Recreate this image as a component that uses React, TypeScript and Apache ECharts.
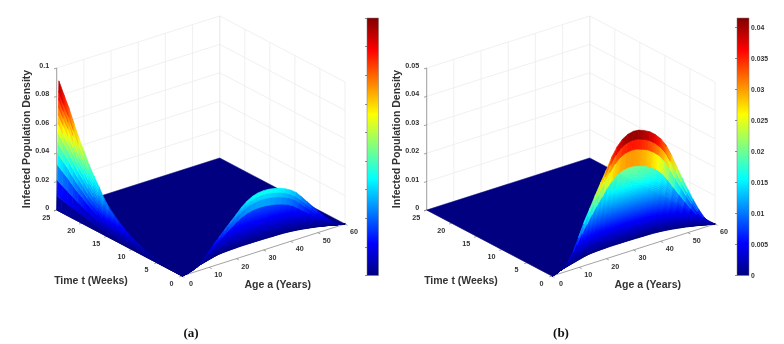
import React, { useEffect, useRef } from "react";
import * as echarts from "echarts";

const ageTicks = [0, 10, 20, 30, 40, 50, 60];
const weekTicks = [0, 5, 10, 15, 20, 25];
const densityTicksA = [0, 0.02, 0.04, 0.06, 0.08, 0.1];
const densityTicksB = [0, 0.01, 0.02, 0.03, 0.04, 0.05];

const ages = [0, 2, 4, 6, 8, 10, 12, 14, 16, 18, 20, 22, 24, 26, 28, 30, 32, 34, 36, 38, 40, 42, 44, 46, 48, 50, 52, 54, 56, 58, 60];
// density along the t = 0 edge, read from the crest of the hump
const crest = [0, 0.0004, 0.0015, 0.0032, 0.0065, 0.0112, 0.0158, 0.0197, 0.0237, 0.0275, 0.0312, 0.0352, 0.0382, 0.0403, 0.0414, 0.0418, 0.0416, 0.0408, 0.0398, 0.0382, 0.0361, 0.0332, 0.029, 0.0243, 0.0198, 0.0153, 0.011, 0.007, 0.0036, 0.0012, 0];
// week at which the density has fallen to zero for each age
const foldWeek = [0, 0.3, 0.6, 0.9, 1.15, 1.4, 1.65, 1.9, 2.15, 2.35, 2.45, 2.5, 2.55, 2.6, 2.6, 2.6, 2.6, 2.58, 2.55, 2.52, 2.5, 2.45, 2.35, 2.2, 2, 1.75, 1.5, 1.15, 0.8, 0.4, 0];
// mesh rows of the hump: share of the crest height, and the value of each strip as a share of the crest
const humpRows = [0, 0.02, 0.04, 0.06, 0.08, 0.1, 0.12, 0.14, 0.16, 0.18, 0.2, 0.22, 0.24, 0.26, 0.28, 0.3, 0.32, 0.34, 0.36, 0.38, 0.4, 0.42, 0.44, 0.46, 0.48, 0.5, 0.52, 0.54, 0.56, 0.58, 0.6, 0.62, 0.64, 0.66, 0.68, 0.83, 0.92, 1];
const humpTints = [0.005, 0.02, 0.035, 0.05, 0.065, 0.08, 0.095, 0.11, 0.125, 0.14, 0.155, 0.17, 0.185, 0.2, 0.215, 0.23, 0.245, 0.26, 0.275, 0.29, 0.305, 0.32, 0.335, 0.35, 0.365, 0.38, 0.395, 0.41, 0.425, 0.44, 0.45, 0.46, 0.47, 0.48, 0.72, 0.85, 0.97];

// panel (a): density along the young-age ridge by week
const ridgeWeeks = [25, 24, 23, 22, 21, 20, 19, 18, 17, 16, 15, 14, 13, 12, 11, 10, 9, 8, 7, 6, 5, 4, 3, 2, 1, 0];
const ridgeDensity = [0.0905, 0.0825, 0.075, 0.066, 0.0575, 0.0505, 0.0428, 0.0365, 0.0308, 0.0245, 0.0198, 0.0165, 0.0135, 0.0108, 0.0086, 0.0068, 0.0052, 0.0036, 0.0024, 0.0016, 0.001, 0.0007, 0.0004, 0.0002, 0.0001, 0];
const ridgeRows = [0, 0.11, 0.23, 0.35, 0.44, 0.52, 0.6, 0.67, 0.74, 0.8, 0.86, 0.92, 1];

const FONT = "Liberation Sans";

function jet(v: number) {
  const c = (x: number) => Math.round(255 * Math.max(0, Math.min(1, x)));
  return `rgb(${c(Math.min(4 * v - 1.5, -4 * v + 4.5))},${c(Math.min(4 * v - 0.5, -4 * v + 3.5))},${c(Math.min(4 * v + 0.5, -4 * v + 2.5))})`;
}
const jetStops = [0, 0.125, 0.25, 0.375, 0.5, 0.625, 0.75, 0.875, 1].map((o) => ({ offset: o, color: jet(1 - o) }));

function buildPanel(offsetX: number, zMax: number, humpColorMax: number, zTicks: number[], withRidge: boolean, caption: string) {
  const toCanvas = (a: number, t: number, z: number) => [
    182 + offsetX + 2.717 * a - 5.012 * t,
    276 - 0.867 * a - 2.64 * t - (142 * z) / zMax,
  ];

  const cells: number[][] = [];
  const pushCell = (p: number[][], c1: number, c2: number) => cells.push([...p[0], ...p[1], ...p[2], ...p[3], c1, c2]);

  // hump: colour values already divided by the scale
  for (let k = 0; k < humpTints.length; k++) {
    const lo = humpRows[k];
    const hi = humpRows[k + 1];
    for (let i = 0; i < ages.length - 1; i++) {
      const j = i + 1;
      pushCell(
        [
          [ages[i], foldWeek[i] * (1 - hi), crest[i] * hi],
          [ages[j], foldWeek[j] * (1 - hi), crest[j] * hi],
          [ages[j], foldWeek[j] * (1 - lo), crest[j] * lo],
          [ages[i], foldWeek[i] * (1 - lo), crest[i] * lo],
        ],
        (crest[i] * humpTints[k]) / humpColorMax,
        (crest[j] * humpTints[k]) / humpColorMax
      );
    }
  }
  // ridge
  if (withRidge) {
    for (let k = 0; k < ridgeRows.length - 1; k++) {
      const lo = ridgeRows[k];
      const hi = ridgeRows[k + 1];
      const tone = lo + 0.25 * (hi - lo);
      for (let i = 0; i < ridgeWeeks.length - 1; i++) {
        const j = i + 1;
        pushCell(
          [
            [0.8 * hi, ridgeWeeks[i], ridgeDensity[i] * hi],
            [0.8 * hi, ridgeWeeks[j], ridgeDensity[j] * hi],
            [0.8 * lo, ridgeWeeks[j], ridgeDensity[j] * lo],
            [0.8 * lo, ridgeWeeks[i], ridgeDensity[i] * lo],
          ],
          (ridgeDensity[i] * tone) / 0.09,
          (ridgeDensity[j] * tone) / 0.09
        );
      }
    }
  }

  // wall grid: [a1,t1,z1,a2,t2,z2]
  const wallLines: number[][] = [];
  const axisLines: number[][] = [];
  zTicks.forEach((z) => {
    wallLines.push([0, 25, z, 60, 25, z], [60, 25, z, 60, 0, z]);
    axisLines.push([0, 25, z, -1, 25, z]);
  });
  ageTicks.forEach((a) => {
    wallLines.push([a, 25, 0, a, 25, zMax]);
    axisLines.push([a, 0, 0, a, -0.5, 0]);
  });
  weekTicks.forEach((t) => {
    wallLines.push([60, t, 0, 60, t, zMax]);
    axisLines.push([0, t, 0, -1, t, 0]);
  });
  axisLines.push([0, 25, 0, 0, 25, zMax], [0, 0, 0, 60, 0, 0], [0, 0, 0, 0, 25, 0]);

  const lineRender = (stroke: string, width: number) => (_p: any, api: any) => {
    const a = api.coord(toCanvas(api.value(0), api.value(1), api.value(2)));
    const b = api.coord(toCanvas(api.value(3), api.value(4), api.value(5)));
    return { type: "line", shape: { x1: a[0], y1: a[1], x2: b[0], y2: b[1] }, style: { stroke, lineWidth: width } };
  };

  const tickFont = `bold 7.2px "${FONT}"`;
  const texts: any[] = [];
  ageTicks.forEach((a) => {
    const p = toCanvas(a, 0, 0);
    texts.push({ x: p[0] + 9, y: p[1] + 7.5, text: String(a), align: "center", font: tickFont });
  });
  weekTicks.forEach((t) => {
    const p = toCanvas(0, t, 0);
    texts.push({ x: p[0] - 10.5, y: p[1] + 7, text: String(t), align: "center", font: tickFont });
  });
  zTicks.forEach((z) => {
    const p = toCanvas(0, 25, z);
    texts.push({ x: p[0] - 7.5, y: p[1] - 2.5, text: String(z), align: "right", font: tickFont });
  });
  const labelFont = `bold 10.5px "${FONT}"`;
  texts.push({ x: 91 + offsetX, y: 279.5, text: "Time t (Weeks)", align: "center", font: labelFont });
  texts.push({ x: 277.7 + offsetX, y: 283.5, text: "Age a (Years)", align: "center", font: labelFont });
  texts.push({ x: 26 + offsetX, y: 139, text: "Infected Population Density", align: "center", font: labelFont, rotation: Math.PI / 2 });
  texts.push({ x: 191 + offsetX, y: 332, text: caption, align: "center", font: `bold 13px "Liberation Serif"`, fill: "#111" });

  const base = { type: "custom", coordinateSystem: "cartesian2d", xAxisIndex: 0, yAxisIndex: 0, clip: false, silent: true, animation: false };
  return [
    { ...base, data: wallLines, renderItem: lineRender("#ececec", 0.8) },
    { ...base, data: axisLines, renderItem: lineRender("#8a8a8a", 0.8) },
    {
      // the plane at zero density, one polygon bounded by the fold in front
      ...base,
      data: [[0, 25, 0]],
      renderItem: (_p: any, api: any) => {
        const back = [toCanvas(0, 25, 0), toCanvas(60, 25, 0)];
        const front = ages.map((a, i) => toCanvas(a, foldWeek[i], 0)).reverse();
        return {
          type: "polygon",
          shape: { points: [...back, ...front].map((p) => api.coord(p)) },
          style: { fill: jet(0), stroke: jet(0), lineWidth: 0.5 },
        };
      },
    },
    {
      ...base,
      data: cells,
      renderItem: (_p: any, api: any) => {
        const pts = [0, 3, 6, 9].map((i) => api.coord(toCanvas(api.value(i), api.value(i + 1), api.value(i + 2))));
        const c1 = jet(Math.min(1, api.value(12)));
        const c2 = jet(Math.min(1, api.value(13)));
        const fill = c1 === c2 ? c1 : new echarts.graphic.LinearGradient(0, 0, 1, 0, [{ offset: 0, color: c1 }, { offset: 1, color: c2 }]);
        return { type: "polygon", shape: { points: pts }, style: { fill, stroke: c1, lineWidth: 0.7 } };
      },
    },
    {
      ...base,
      data: texts.map((t, i) => [t.x, t.y, i]),
      renderItem: (p: any, api: any) => {
        const t = texts[p.dataIndex];
        const c = api.coord([t.x, t.y]);
        return {
          type: "text",
          x: c[0],
          y: c[1],
          rotation: t.rotation || 0,
          style: { text: t.text, font: t.font, fill: t.fill || "#333", textAlign: t.align, textVerticalAlign: "middle" },
        };
      },
    },
  ];
}

function colorBar(index: number, max: number) {
  return {
    type: "custom",
    coordinateSystem: "cartesian2d",
    xAxisIndex: index,
    yAxisIndex: index,
    silent: true,
    animation: false,
    data: [[0, max]],
    renderItem: (_p: any, api: any) => {
      const top = api.coord([0, max]);
      const bottom = api.coord([0, 0]);
      const size = api.size([1, 0]);
      return {
        type: "rect",
        shape: { x: top[0], y: top[1], width: size[0], height: bottom[1] - top[1] },
        style: { fill: new echarts.graphic.LinearGradient(0, 0, 0, 1, jetStops), stroke: "#777", lineWidth: 0.5 },
      };
    },
    z: 1,
  };
}

export default function App() {
  const ref = useRef<HTMLDivElement>(null);
  useEffect(() => {
    document.body.style.margin = "0";
    const chart = echarts.init(ref.current!, null, { renderer: "svg" });
    const barAxis = (show: boolean, max: number, interval: number, left: boolean) => ({
      type: "value",
      gridIndex: left ? 1 : 2,
      min: 0,
      max,
      interval,
      position: "right",
      splitLine: { show: false },
      axisLine: { show: false },
      z: 5,
      axisTick: { show: true, inside: true, length: 2, lineStyle: { color: "#444", width: 0.6 } },
      axisLabel: {
        show,
        showMaxLabel: false,
        margin: 2,
        fontFamily: FONT,
        fontWeight: "bold",
        fontSize: 6.8,
        color: "#333",
        formatter: (v: number) => String(+v.toFixed(3)),
      },
    });
    const hiddenX = (gridIndex: number) => ({ type: "value", gridIndex, min: 0, max: 1, show: false });
    chart.setOption({
      animation: false,
      backgroundColor: "#fff",
      grid: [
        { left: 0, right: 0, top: 0, bottom: 0 },
        { left: 367, width: 11.5, top: 18, height: 257.5 },
        { left: 737, width: 12, top: 18, height: 257.5 },
      ],
      xAxis: [{ type: "value", gridIndex: 0, min: 0, max: 784, show: false }, hiddenX(1), hiddenX(2)],
      yAxis: [
        { type: "value", gridIndex: 0, min: 0, max: 344, inverse: true, show: false },
        barAxis(false, 0.09, 0.01, true),
        barAxis(true, 0.0415, 0.005, false),
      ],
      series: [
        ...buildPanel(0, 0.1, 0.105, densityTicksA, true, "(a)"),
        ...buildPanel(370, 0.05, 0.0415, densityTicksB, false, "(b)"),
        colorBar(1, 0.09),
        colorBar(2, 0.0415),
      ],
    });
    return () => chart.dispose();
  }, []);
  return <div ref={ref} style={{ width: 784, height: 344, filter: "blur(0.45px)" }} />;
}
